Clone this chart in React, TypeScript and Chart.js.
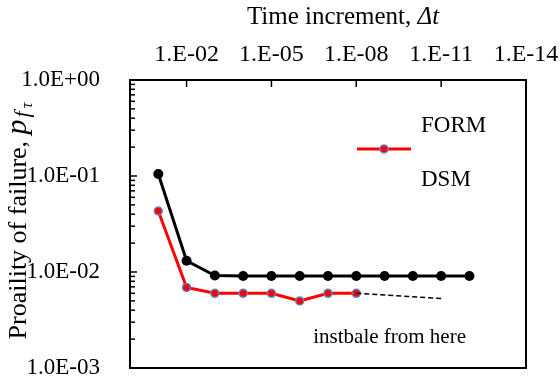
import React, { useEffect, useRef } from "react";
import { Chart, registerables } from "chart.js";

Chart.register(...registerables);

const timeSteps = [1e-1, 1e-2, 1e-3, 1e-4, 1e-5, 1e-6, 1e-7, 1e-8, 1e-9, 1e-10, 1e-11, 1e-12];
const formValues = [0.105, 0.0131, 0.0092, 0.0091, 0.0091, 0.0091, 0.0091, 0.0091, 0.0091, 0.0091, 0.0091, 0.0091];
const dsmSteps = [1e-1, 1e-2, 1e-3, 1e-4, 1e-5, 1e-6, 1e-7, 1e-8];
const dsmValues = [0.0432, 0.0069, 0.006, 0.006, 0.006, 0.005, 0.006, 0.006];
const unstableSteps = [1e-8, 1e-11];
const unstableValues = [0.006, 0.0053];

const xTickValues = [1e-2, 1e-5, 1e-8, 1e-11, 1e-14];
const xTickLabels = ["1.E-02", "1.E-05", "1.E-08", "1.E-11", "1.E-14"];
const yTickValues = [1, 0.1, 0.01, 0.001];
const yTickLabels = ["1.0E+00", "1.0E-01", "1.0E-02", "1.0E-03"];

const FONT = '"Liberation Serif", "Times New Roman", serif';

const customDraw = {
  id: "customDraw",
  afterDraw(chart: any) {
    const { ctx, chartArea, scales } = chart;
    const { left, right, top, bottom } = chartArea;
    const x = scales.x;
    const y = scales.y;
    ctx.save();
    ctx.strokeStyle = "#000";
    ctx.lineWidth = 2;
    ctx.strokeRect(left, top, right - left, bottom - top);

    // y inward ticks (major + minor)
    ctx.lineWidth = 1.5;
    for (let e = -3; e <= 0; e++) {
      for (let m = 1; m <= 9; m++) {
        const v = m * Math.pow(10, e);
        if (v > 1.0001) break;
        const py = y.getPixelForValue(v);
        const len = m === 1 ? 7 : 5;
        ctx.beginPath();
        ctx.moveTo(left, py);
        ctx.lineTo(left + len, py);
        ctx.stroke();
      }
    }
    // x inward ticks
    for (const v of xTickValues.slice(0, 4)) {
      const px = x.getPixelForValue(v);
      ctx.beginPath();
      ctx.moveTo(px, top);
      ctx.lineTo(px, top + 7);
      ctx.stroke();
    }

    // Legend
    ctx.fillStyle = "#000";
    ctx.font = `23px ${FONT}`;
    ctx.textBaseline = "middle";
    ctx.textAlign = "left";
    ctx.fillText("FORM", 421, 126);
    ctx.fillText("DSM", 421, 180);
    ctx.strokeStyle = "#ff0000";
    ctx.lineWidth = 3;
    ctx.beginPath();
    ctx.moveTo(357, 149);
    ctx.lineTo(411, 149);
    ctx.stroke();
    ctx.beginPath();
    ctx.arc(384, 149, 4, 0, Math.PI * 2);
    ctx.fillStyle = "#ff0000";
    ctx.fill();
    ctx.lineWidth = 1.5;
    ctx.strokeStyle = "#5b87c5";
    ctx.stroke();

    // annotation
    ctx.fillStyle = "#000";
    ctx.textAlign = "right";
    ctx.font = `21px ${FONT}`;
    ctx.fillText("instbale from here", 466, 337);

    // x title
    ctx.textAlign = "left";
    const t1 = "Time increment, ";
    const t2 = "\u0394t";
    ctx.font = `25px ${FONT}`;
    const w1 = ctx.measureText(t1).width;
    ctx.font = `italic 25px ${FONT}`;
    const w2 = ctx.measureText(t2).width;
    const sx = 343 - (w1 + w2) / 2;
    ctx.font = `25px ${FONT}`;
    ctx.fillText(t1, sx, 17);
    ctx.font = `italic 25px ${FONT}`;
    ctx.fillText(t2, sx + w1, 17);

    // y title (rotated)
    ctx.save();
    ctx.translate(18, 221);
    ctx.rotate(-Math.PI / 2);
    const s1 = "Proaility of failure, ";
    ctx.font = `26px ${FONT}`;
    const a1 = ctx.measureText(s1).width;
    ctx.font = `italic 30px ${FONT}`;
    const a2 = ctx.measureText("p").width;
    ctx.font = `italic 22px ${FONT}`;
    const a3 = ctx.measureText("f").width;
    ctx.font = `italic 16px ${FONT}`;
    const a4 = ctx.measureText("\u03c4").width;
    const total = a1 + a2 + a3 + a4 + 5;
    let cx = -total / 2;
    ctx.textBaseline = "alphabetic";
    ctx.font = `26px ${FONT}`;
    ctx.fillText(s1, cx, 8);
    cx += a1;
    ctx.font = `italic 30px ${FONT}`;
    ctx.fillText("p", cx, 8);
    cx += a2 + 2;
    ctx.font = `italic 22px ${FONT}`;
    ctx.fillText("f", cx, 11);
    cx += a3 + 3;
    ctx.font = `italic 16px ${FONT}`;
    ctx.fillText("\u03c4", cx, 14);
    ctx.restore();

    ctx.restore();
  },
};

export default function App() {
  const ref = useRef<HTMLCanvasElement | null>(null);
  useEffect(() => {
    if (!ref.current) return;
    const chart = new Chart(ref.current, {
      type: "line",
      data: {
        datasets: [
          {
            label: "unstable",
            data: unstableSteps.map((t, i) => ({ x: t, y: unstableValues[i] })),
            borderColor: "#000",
            borderWidth: 1.5,
            borderDash: [5, 3],
            pointRadius: 0,
            fill: false,
          },
          {
            label: "DSM",
            data: dsmSteps.map((t, i) => ({ x: t, y: dsmValues[i] })),
            borderColor: "#ff0000",
            borderWidth: 3,
            pointRadius: 4,
            pointBackgroundColor: "#ff0000",
            pointBorderColor: "#5b87c5",
            pointBorderWidth: 1.5,
            fill: false,
          },
          {
            label: "FORM",
            data: timeSteps.map((t, i) => ({ x: t, y: formValues[i] })),
            borderColor: "#000",
            borderWidth: 3,
            pointRadius: 5,
            pointBackgroundColor: "#000",
            pointBorderColor: "#000",
            pointBorderWidth: 0,
            fill: false,
          },
        ],
      },
      options: {
        animation: false,
        responsive: true,
        maintainAspectRatio: false,
        layout: { padding: { left: 0, right: 34, top: 0, bottom: 12 } },
        plugins: { legend: { display: false }, tooltip: { enabled: false } },
        scales: {
          x: {
            type: "logarithmic",
            position: "top",
            reverse: true,
            min: 1e-14,
            max: 1,
            grid: { display: false, drawTicks: false },
            border: { display: false },
            afterBuildTicks: (s: any) => {
              s.ticks = xTickValues.map((v) => ({ value: v }));
            },
            afterFit: (s: any) => {
              s.height = 80;
              s.paddingLeft = 0;
              s.paddingRight = 0;
              s.paddingTop = 0;
              s.paddingBottom = 0;
            },
            ticks: {
              autoSkip: false,
              maxRotation: 0,
              padding: 11,
              color: "#000",
              font: { family: FONT, size: 24 },
              callback: (_v: any, i: number) => xTickLabels[i],
            },
          },
          y: {
            type: "logarithmic",
            min: 1e-3,
            max: 1,
            grid: { display: false, drawTicks: false },
            border: { display: false },
            afterBuildTicks: (s: any) => {
              s.ticks = yTickValues.map((v) => ({ value: v }));
            },
            afterFit: (s: any) => {
              s.width = 130;
              s.paddingLeft = 0;
              s.paddingRight = 0;
              s.paddingTop = 0;
              s.paddingBottom = 0;
            },
            ticks: {
              autoSkip: false,
              padding: 30,
              color: "#000",
              font: { family: FONT, size: 23 },
              callback: (_v: any, i: number) => yTickLabels[i],
            },
          },
        },
      },
      plugins: [customDraw],
    });
    return () => chart.destroy();
  }, []);
  return (
    <div style={{ position: "fixed", left: 0, top: 0, width: 560, height: 380 }}>
      <canvas ref={ref} />
    </div>
  );
}
